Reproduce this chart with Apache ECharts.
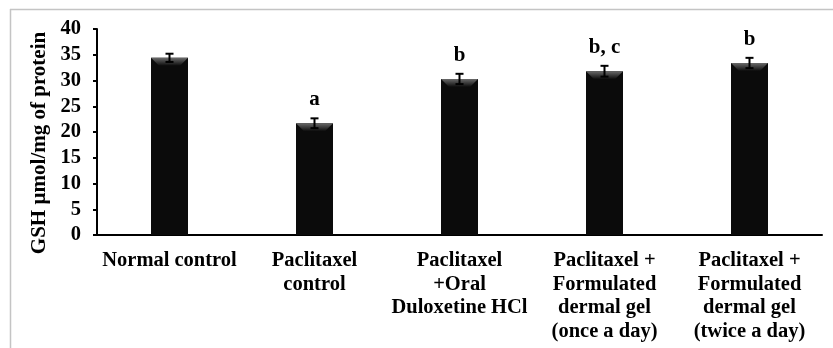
<!DOCTYPE html>
<html>
<head>
<meta charset="utf-8">
<script src="https://cdn.jsdelivr.net/npm/echarts@6/dist/echarts.min.js"></script>
<style>
html,body{margin:0;padding:0;background:#fff;}
#chart{width:833px;height:348px;}
</style>
</head>
<body>
<div id="chart"></div>
<script>
const categories = ['Normal control', 'Paclitaxel\ncontrol', 'Paclitaxel\n+Oral\nDuloxetine HCl', 'Paclitaxel +\nFormulated\ndermal gel\n(once a day)', 'Paclitaxel +\nFormulated\ndermal gel\n(twice a day)'];
const values = [34.4, 21.7, 30.3, 31.8, 33.4];
const errors = [0.8, 0.95, 1.0, 1.05, 1.0];
const sigLabels = ['', 'a', 'b', 'b, c', 'b'];
const yTicks = { min: 0, max: 40, interval: 5 };
const yName = 'GSH µmol/mg of protein';

const FONT = '"Liberation Serif", "Times New Roman", serif';
const BAR_W = 37;

const chart = echarts.init(document.getElementById('chart'), null, { renderer: 'canvas' });

const errData = categories.map((c, i) => [i, values[i], errors[i]]);

chart.setOption({
  animation: false,
  backgroundColor: '#fff',
  grid: { left: 97, right: 11, top: 29, bottom: 113, containLabel: false },
  graphic: [
    { type: 'line', shape: { x1: 10, y1: 9.5, x2: 833, y2: 9.5 }, style: { stroke: '#c4c4c4', lineWidth: 1.5 } },
    { type: 'line', shape: { x1: 10.5, y1: 9, x2: 10.5, y2: 348 }, style: { stroke: '#c4c4c4', lineWidth: 1.5 } }
  ],
  xAxis: {
    type: 'category',
    data: categories,
    axisLine: { lineStyle: { color: '#000', width: 2 } },
    axisTick: { show: false },
    axisLabel: {
      interval: 0,
      margin: 14,
      color: '#000',
      fontFamily: FONT,
      fontWeight: 'bold',
      fontSize: 20.5,
      lineHeight: 23.5
    },
    splitLine: { show: false }
  },
  yAxis: {
    type: 'value',
    min: yTicks.min,
    max: yTicks.max,
    interval: yTicks.interval,
    name: yName,
    nameLocation: 'middle',
    nameGap: 40,
    nameTextStyle: {
      color: '#000',
      fontFamily: FONT,
      fontWeight: 'bold',
      fontSize: 21,
      padding: [0, 22, 0, 0]
    },
    axisLine: { show: true, lineStyle: { color: '#000', width: 2 } },
    axisTick: { show: true, length: 4, lineStyle: { color: '#000', width: 2 } },
    axisLabel: {
      margin: 16,
      color: '#000',
      fontFamily: FONT,
      fontWeight: 'bold',
      fontSize: 20.5
    },
    splitLine: { show: false }
  },
  series: [
    {
      type: 'bar',
      data: values,
      barWidth: BAR_W,
      itemStyle: { color: '#0b0b0b' },
      z: 2
    },
    {
      // top bevel of the bars
      type: 'custom',
      data: errData,
      z: 3,
      renderItem: function (params, api) {
        const top = api.coord([api.value(0), api.value(1)]);
        const x = top[0], y = top[1];
        const h = 8;
        return {
          type: 'polygon',
          shape: { points: [[x - BAR_W / 2, y], [x + BAR_W / 2, y], [x + BAR_W / 2 - h, y + h], [x - BAR_W / 2 + h, y + h]] },
          style: {
            fill: new echarts.graphic.LinearGradient(0, 0, 0, 1, [
              { offset: 0, color: '#6a6a6a' },
              { offset: 1, color: '#0b0b0b' }
            ])
          }
        };
      }
    },
    {
      // error bars + significance letters
      type: 'custom',
      data: errData,
      z: 5,
      renderItem: function (params, api) {
        const i = api.value(0), v = api.value(1), e = api.value(2);
        const hi = api.coord([i, v + e]);
        const lo = api.coord([i, v - e]);
        const cx = hi[0];
        const cap = 4;
        const children = [
          { type: 'line', shape: { x1: cx, y1: hi[1], x2: cx, y2: lo[1] }, style: { stroke: '#000', lineWidth: 2 } },
          { type: 'line', shape: { x1: cx - cap, y1: hi[1], x2: cx + cap, y2: hi[1] }, style: { stroke: '#000', lineWidth: 2 } },
          { type: 'line', shape: { x1: cx - cap, y1: lo[1], x2: cx + cap, y2: lo[1] }, style: { stroke: '#000', lineWidth: 2 } }
        ];
        const lab = sigLabels[params.dataIndex];
        if (lab) {
          children.push({
            type: 'text',
            style: {
              text: lab,
              x: cx,
              y: hi[1] - 8,
              align: 'center',
              verticalAlign: 'bottom',
              fill: '#000',
              font: 'bold 21px ' + FONT
            }
          });
        }
        return { type: 'group', children: children };
      }
    }
  ]
});
</script>
</body>
</html>
